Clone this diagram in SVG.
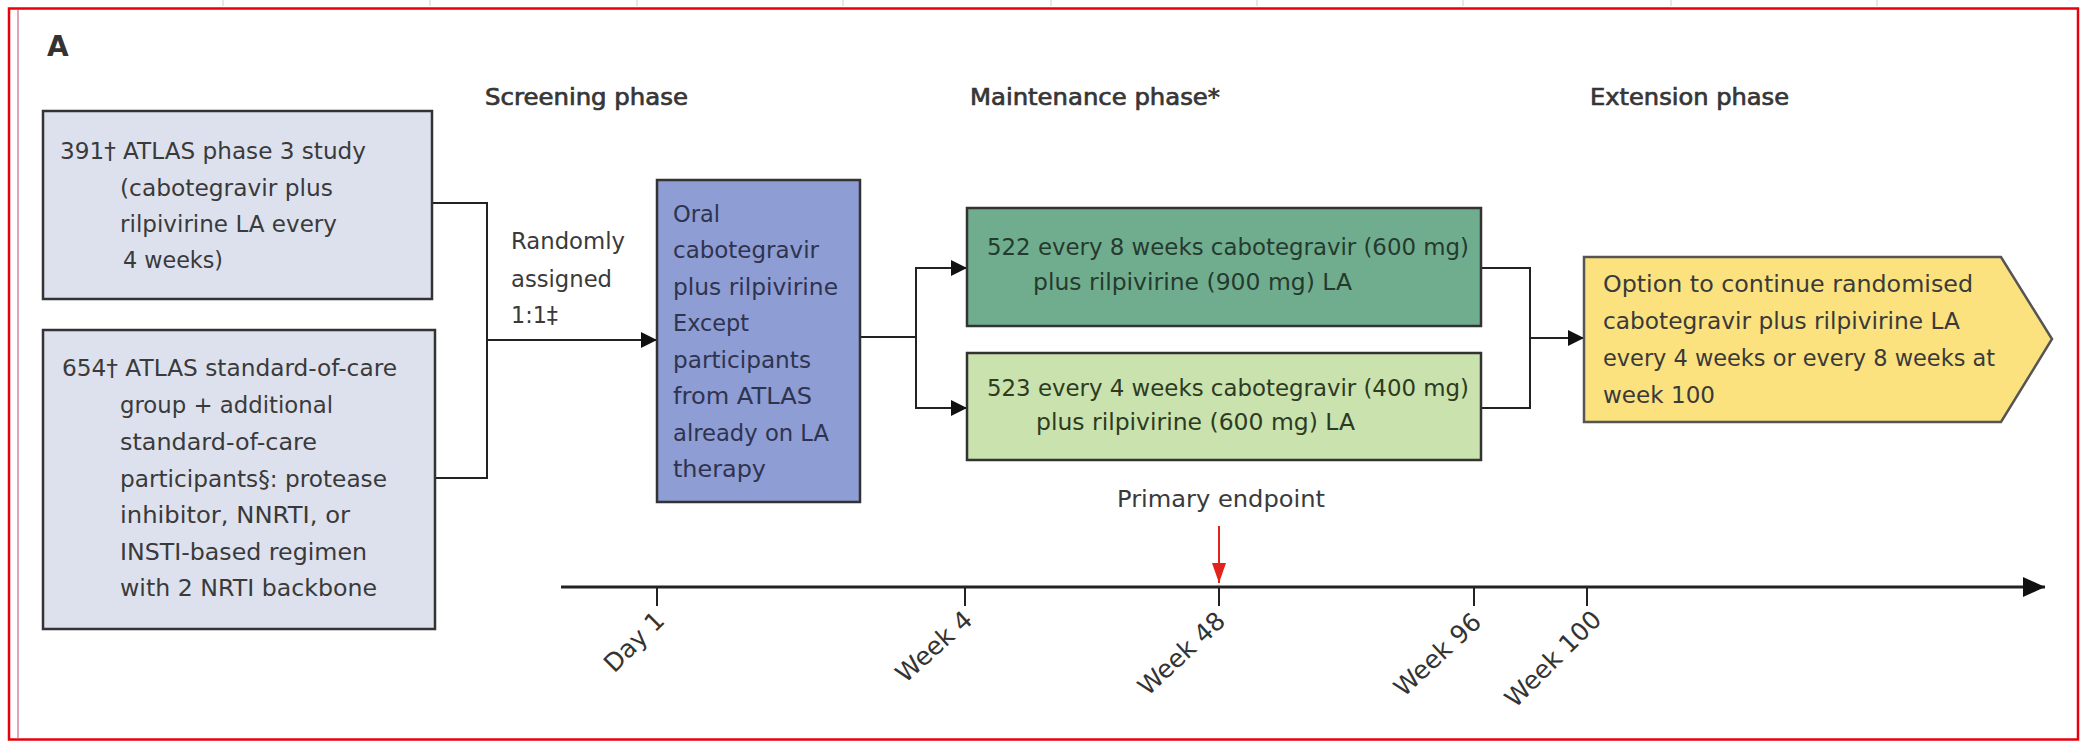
<svg xmlns="http://www.w3.org/2000/svg" width="2086" height="742" viewBox="0 0 2086 742">
<defs>
<style>
.t{font-family:"DejaVu Sans",Verdana,sans-serif;font-size:23px;fill:#3a3a3a}
.h{font-family:"DejaVu Sans",Verdana,sans-serif;font-size:22.5px;fill:#363636;stroke:#363636;stroke-width:0.7}
.tl{font-family:"DejaVu Sans",Verdana,sans-serif;font-size:25px;fill:#333}
.box{stroke:#333;stroke-width:2.5}
.c{fill:none;stroke:#222;stroke-width:2}
</style>
<marker id="ah" markerUnits="userSpaceOnUse" markerWidth="16" markerHeight="16" refX="16" refY="8" orient="auto">
<path d="M0,0 L16,8 L0,16 z" fill="#111"/>
</marker>
<marker id="ahBig" markerUnits="userSpaceOnUse" markerWidth="22" markerHeight="20" refX="22" refY="10" orient="auto">
<path d="M0,0 L22,10 L0,20 z" fill="#111"/>
</marker>
<marker id="ahRed" markerUnits="userSpaceOnUse" markerWidth="20" markerHeight="14" refX="20" refY="7" orient="auto">
<path d="M0,0 L20,7 L0,14 z" fill="#e2231a"/>
</marker>
</defs>
<rect width="2086" height="742" fill="#fff"/>
<g id="frame">
<g stroke="#d0d0d0" stroke-width="1">
<line x1="223" y1="0" x2="223" y2="6"/><line x1="430" y1="0" x2="430" y2="6"/><line x1="637" y1="0" x2="637" y2="6"/><line x1="843" y1="0" x2="843" y2="6"/><line x1="1051" y1="0" x2="1051" y2="6"/><line x1="1257" y1="0" x2="1257" y2="6"/><line x1="1463" y1="0" x2="1463" y2="6"/><line x1="1671" y1="0" x2="1671" y2="6"/><line x1="1877" y1="0" x2="1877" y2="6"/>
</g>
<rect x="9" y="8.5" width="2069" height="731" fill="none" stroke="#e8000b" stroke-width="2.5"/>
<line x1="18" y1="10" x2="18" y2="739" stroke="#c46a86" stroke-width="1.2"/>
</g>
<text x="47" y="56" style="font-family:'DejaVu Sans',Verdana,sans-serif;font-size:28px;font-weight:bold;fill:#333">A</text>
<g id="headers">
<text class="h" x="485" y="105" textLength="203" lengthAdjust="spacingAndGlyphs">Screening phase</text>
<text class="h" x="970" y="105" textLength="250" lengthAdjust="spacingAndGlyphs">Maintenance phase*</text>
<text class="h" x="1590" y="105" textLength="199" lengthAdjust="spacingAndGlyphs">Extension phase</text>
</g>
<g id="connectors">
<polyline class="c" points="432,203 487,203 487,478 435,478"/>
<line class="c" x1="487" y1="340" x2="657" y2="340" marker-end="url(#ah)"/>
<polyline class="c" points="860,337 916,337"/>
<polyline class="c" points="967,268 916,268 916,408 967,408"/>
<line class="c" x1="916" y1="268" x2="967" y2="268" marker-end="url(#ah)"/>
<line class="c" x1="916" y1="408" x2="967" y2="408" marker-end="url(#ah)"/>
<polyline class="c" points="1481,268 1530,268 1530,408 1481,408"/>
<line class="c" x1="1530" y1="338" x2="1584" y2="338" marker-end="url(#ah)"/>
</g>
<g id="atlas">
<rect class="box" x="43" y="111" width="389" height="188" fill="#dde1ee"/>
<text class="t" x="60" y="159" textLength="306" lengthAdjust="spacingAndGlyphs">391† ATLAS phase 3 study</text>
<text class="t" x="120" y="196" textLength="213" lengthAdjust="spacingAndGlyphs">(cabotegravir plus</text>
<text class="t" x="120" y="232" textLength="217" lengthAdjust="spacingAndGlyphs">rilpivirine LA every</text>
<text class="t" x="123" y="268" textLength="100" lengthAdjust="spacingAndGlyphs">4 weeks)</text>
</g>
<g id="soc">
<rect class="box" x="43" y="330" width="392" height="299" fill="#dde1ee"/>
<text class="t" x="62" y="376" textLength="335" lengthAdjust="spacingAndGlyphs">654† ATLAS standard-of-care</text>
<text class="t" x="120" y="413" textLength="213" lengthAdjust="spacingAndGlyphs">group + additional</text>
<text class="t" x="120" y="450" textLength="197" lengthAdjust="spacingAndGlyphs">standard-of-care</text>
<text class="t" x="120" y="487" textLength="267" lengthAdjust="spacingAndGlyphs">participants§: protease</text>
<text class="t" x="120" y="523" textLength="230" lengthAdjust="spacingAndGlyphs">inhibitor, NNRTI, or</text>
<text class="t" x="120" y="560" textLength="247" lengthAdjust="spacingAndGlyphs">INSTI-based regimen</text>
<text class="t" x="120" y="596" textLength="257" lengthAdjust="spacingAndGlyphs">with 2 NRTI backbone</text>
</g>
<g id="randomly">
<text class="t" x="511" y="249" textLength="114" lengthAdjust="spacingAndGlyphs">Randomly</text>
<text class="t" x="511" y="287" textLength="101" lengthAdjust="spacingAndGlyphs">assigned</text>
<text class="t" x="511" y="323" textLength="47" lengthAdjust="spacingAndGlyphs">1:1‡</text>
</g>
<g id="oral">
<rect class="box" x="657" y="180" width="203" height="322" fill="#8e9dd3"/>
<text class="t" style="fill:#2e3350" x="673" y="222" textLength="47" lengthAdjust="spacingAndGlyphs">Oral</text>
<text class="t" style="fill:#2e3350" x="673" y="258" textLength="146" lengthAdjust="spacingAndGlyphs">cabotegravir</text>
<text class="t" style="fill:#2e3350" x="673" y="295" textLength="165" lengthAdjust="spacingAndGlyphs">plus rilpivirine</text>
<text class="t" style="fill:#2e3350" x="673" y="331" textLength="76" lengthAdjust="spacingAndGlyphs">Except</text>
<text class="t" style="fill:#2e3350" x="673" y="368" textLength="138" lengthAdjust="spacingAndGlyphs">participants</text>
<text class="t" style="fill:#2e3350" x="673" y="404" textLength="139" lengthAdjust="spacingAndGlyphs">from ATLAS</text>
<text class="t" style="fill:#2e3350" x="673" y="441" textLength="156" lengthAdjust="spacingAndGlyphs">already on LA</text>
<text class="t" style="fill:#2e3350" x="673" y="477" textLength="93" lengthAdjust="spacingAndGlyphs">therapy</text>
</g>
<g id="q8w">
<rect class="box" x="967" y="208" width="514" height="118" fill="#70ad8e"/>
<text class="t" style="fill:#253a2e" x="987" y="255" textLength="482" lengthAdjust="spacingAndGlyphs">522 every 8 weeks cabotegravir (600 mg)</text>
<text class="t" style="fill:#253a2e" x="1033" y="290" textLength="319" lengthAdjust="spacingAndGlyphs">plus rilpivirine (900 mg) LA</text>
</g>
<g id="q4w">
<rect class="box" x="967" y="353" width="514" height="107" fill="#c9e2ae"/>
<text class="t" style="fill:#2e3a22" x="987" y="396" textLength="482" lengthAdjust="spacingAndGlyphs">523 every 4 weeks cabotegravir (400 mg)</text>
<text class="t" style="fill:#2e3a22" x="1036" y="430" textLength="319" lengthAdjust="spacingAndGlyphs">plus rilpivirine (600 mg) LA</text>
</g>
<g id="extension">
<path d="M1584,257 L2001,257 L2052,339 L2001,422 L1584,422 Z" fill="#fbe27e" stroke="#555" stroke-width="2.5"/>
<text class="t" x="1603" y="292" textLength="370" lengthAdjust="spacingAndGlyphs">Option to continue randomised</text>
<text class="t" x="1603" y="329" textLength="357" lengthAdjust="spacingAndGlyphs">cabotegravir plus rilpivirine LA</text>
<text class="t" x="1603" y="366" textLength="392" lengthAdjust="spacingAndGlyphs">every 4 weeks or every 8 weeks at</text>
<text class="t" x="1603" y="403" textLength="112" lengthAdjust="spacingAndGlyphs">week 100</text>
</g>
<g id="timeline">
<line x1="561" y1="587" x2="2045" y2="587" stroke="#222" stroke-width="3" marker-end="url(#ahBig)"/>
<g stroke="#222" stroke-width="2">
<line x1="657" y1="587" x2="657" y2="606"/>
<line x1="965" y1="587" x2="965" y2="606"/>
<line x1="1219" y1="587" x2="1219" y2="606"/>
<line x1="1474" y1="587" x2="1474" y2="606"/>
<line x1="1587" y1="587" x2="1587" y2="606"/>
</g>
<text class="tl" text-anchor="end" transform="translate(666,622) rotate(-45)">Day 1</text>
<text class="tl" text-anchor="end" transform="translate(974,622) rotate(-42)">Week 4</text>
<text class="tl" text-anchor="end" transform="translate(1227,623) rotate(-43)">Week 48</text>
<text class="tl" text-anchor="end" transform="translate(1483,624) rotate(-43)">Week 96</text>
<text class="tl" text-anchor="end" transform="translate(1603,621) rotate(-45)">Week 100</text>
</g>
<g id="endpoint">
<text class="t" x="1117" y="507" textLength="208" lengthAdjust="spacingAndGlyphs">Primary endpoint</text>
<line x1="1219" y1="526" x2="1219" y2="583" stroke="#e2231a" stroke-width="2" marker-end="url(#ahRed)"/>
</g>
</svg>
